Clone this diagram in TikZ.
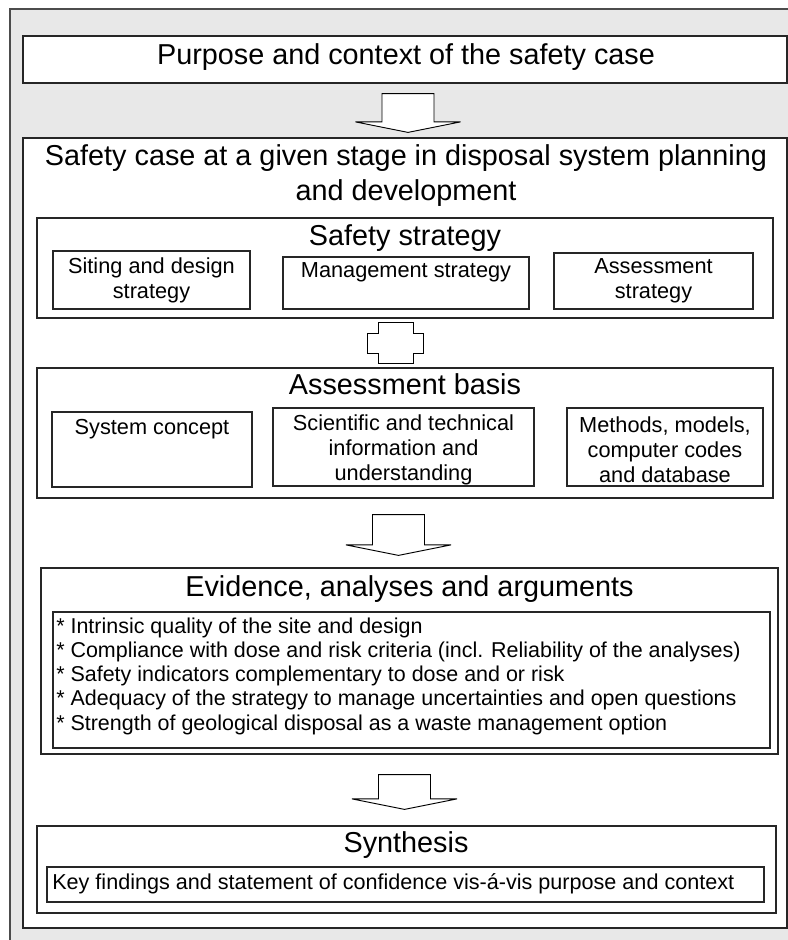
\documentclass[tikz,border=0pt]{standalone}
\usepackage{fontspec}
\setmainfont{Liberation Sans}
\usetikzlibrary{calc,fit}

% Hollow block arrow from a top point (#1) down to a tip point (#2)
\newcommand\blockarrow[2]{%
  \draw[blockarrowstyle] ($#1+(-26,0)$) -- ($#1+(26,0)$) -- ($#2+(26,-10.5)$)
    -- ($#2+(52.5,-10.5)$) -- ($#2$) -- ($#2+(-52.5,-10.5)$) -- ($#2+(-26,-10.5)$) -- cycle;}

\begin{document}
\begin{tikzpicture}[x=0.75pt,y=-0.75pt,
  frame/.style={fill=black!9, draw=black!70, line width=1.1pt},
  panel/.style={draw=black!85, fill=white, line width=0.9pt, inner sep=0pt},
  box/.style={draw=black!85, line width=0.9pt, inner sep=0pt},
  bigtext/.style={font=\fontsize{21.6}{26.25}\selectfont, inner sep=0pt, align=center},
  smalltext/.style={font=\fontsize{16.3}{18.75}\selectfont, inner sep=0pt, align=center},
  listtext/.style={font=\fontsize{16.1}{18.15}\selectfont, inner sep=0pt, align=left},
  blockarrowstyle/.style={draw=black, fill=white, line width=0.7pt, line join=miter}
]
\useasboundingbox (0,0) rectangle (788,940);
\clip (0,0) rectangle (788,940);
\fill[white] (0,0) rectangle (788,940);

% outer frame
\path[frame] (10,9) rectangle (800,960);

% purpose
\node[panel, fit={(23,36) (787,83)}] (purpose) {};
\node[bigtext, anchor=base] (purposetext) at (406,64) {Purpose and context of the safety case};

% safety case panel
\node[panel, fit={(23,138) (787,928)}] (case) {};
\node[bigtext, anchor=base] (casetext) at (406,200)
  {Safety case at a given stage in disposal system planning\\and development};

% safety strategy
\node[box, fit={(37,218) (773,318)}] (strategy) {};
\node[bigtext, anchor=base] (strategytext) at (405,245) {Safety strategy};
\node[box, fit={(53,251) (250,309)}] (siting) {};
\node[smalltext, anchor=base] (sitingtext) at (151.5,298) {Siting and design\\strategy};
\node[box, fit={(283,257) (529,309)}] (management) {};
\node[smalltext, anchor=base] (managementtext) at (406,277) {Management strategy};
\node[box, fit={(554,253) (753,309)}] (assessstrat) {};
\node[smalltext, anchor=base] (assessstrattext) at (653.5,298) {Assessment\\strategy};

% assessment basis
\node[box, fit={(37,368) (773,498)}] (basis) {};
\node[bigtext, anchor=base] (basistext) at (405,394) {Assessment basis};
\node[box, fit={(52,412) (252,487)}] (concept) {};
\node[smalltext, anchor=base] (concepttext) at (152,434) {System concept};
\node[box, fit={(273,408) (534,486)}] (science) {};
\node[smalltext, anchor=base] (sciencetext) at (403.5,480)
  {Scientific and technical\\information and\\understanding};
\node[box, fit={(567,408) (763,486)}] (methods) {};
\node[smalltext, anchor=base] (methodstext) at (665,482)
  {Methods, models,\\computer codes\\and database};

% evidence
\node[box, fit={(41,568) (778,754)}] (evidence) {};
\node[bigtext, anchor=base] (evidencetext) at (409.5,596) {Evidence, analyses and arguments};
\node[box, fit={(53,612) (770,748)}] (evlist) {};
\node[listtext, anchor=base west] (evlisttext) at (56,730)
  {* Intrinsic quality of the site and design\\
   * Compliance with dose and risk criteria (incl. Reliability of the analyses)\\
   * Safety indicators complementary to dose and or risk\\
   * Adequacy of the strategy to manage uncertainties and open questions\\
   * Strength of geological disposal as a waste management option};

% synthesis
\node[box, fit={(37,826) (776,913)}] (synthesis) {};
\node[bigtext, anchor=base] (synthesistext) at (406,852) {Synthesis};
\node[box, fit={(47,867) (764,902)}] (findings) {};
\node[smalltext, font=\fontsize{16.2}{18.75}\selectfont, anchor=base west] (findingstext) at (52,889)
  {Key findings and statement of confidence vis-á-vis purpose and context};

% connectors
\blockarrow{(purpose.south)+(3,10)}{(case.north)+(3,-5)}
\blockarrow{(basis.south)+(-6.5,16)}{(evidence.north)+(-11,-12)}
\blockarrow{(evidence.south)+(-5,20)}{(synthesis.north)+(-2,-16)}

% two-way link between strategy and basis
\coordinate (dt) at ($(strategy.south)+(-9.5,4)$);
\coordinate (db) at ($(basis.north)+(-9.5,-4)$);
\draw[blockarrowstyle] ($(dt)+(-17.5,0)$) -- ($(dt)+(17.5,0)$) -- ($(dt)+(17.5,11)$)
  -- ($(dt)+(28,11)$) -- ($(db)+(28,-10)$) -- ($(db)+(17.5,-10)$) -- ($(db)+(17.5,0)$)
  -- ($(db)+(-17.5,0)$) -- ($(db)+(-17.5,-10)$) -- ($(db)+(-28,-10)$)
  -- ($(dt)+(-28,11)$) -- ($(dt)+(-17.5,11)$) -- cycle;
\end{tikzpicture}
\end{document}
